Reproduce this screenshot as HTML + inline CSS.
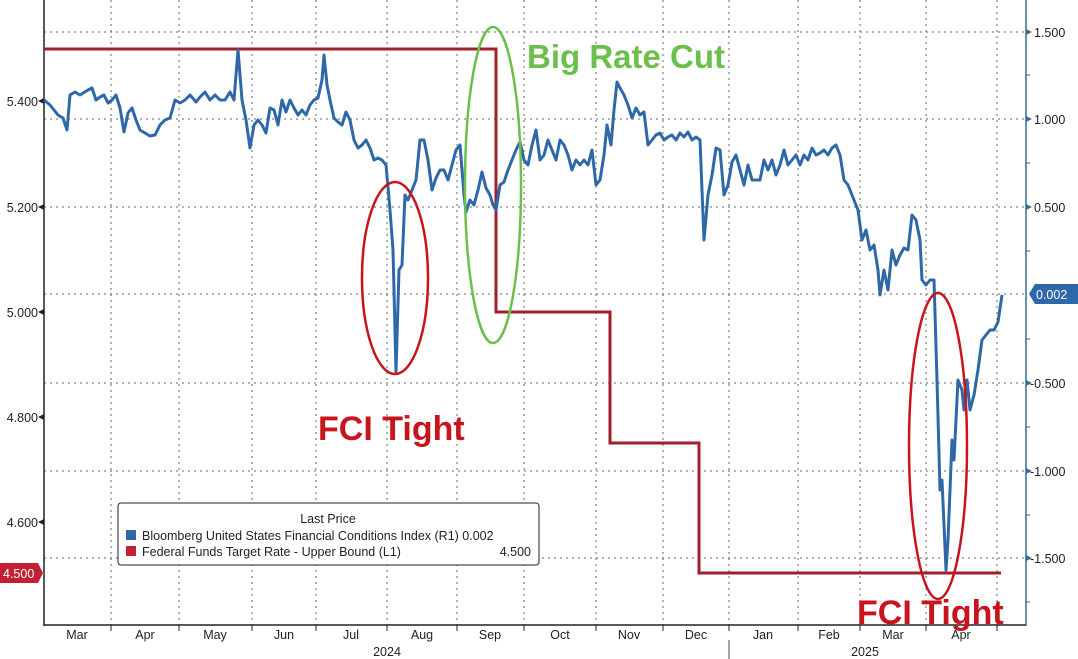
<!DOCTYPE html>
<html><head><meta charset="utf-8"><style>
html,body{margin:0;padding:0;background:#fff;}
svg{display:block;font-family:"Liberation Sans",sans-serif;}
</style></head><body>
<svg width="1078" height="659" viewBox="0 0 1078 659" xmlns="http://www.w3.org/2000/svg">
<rect width="1078" height="659" fill="#fff"/>
<g stroke="#666" stroke-width="1" stroke-dasharray="2,4" fill="none">
<line x1="44" y1="32" x2="1026" y2="32"/>
<line x1="44" y1="119" x2="1026" y2="119"/>
<line x1="44" y1="207" x2="1026" y2="207"/>
<line x1="44" y1="294" x2="1026" y2="294"/>
<line x1="44" y1="383" x2="1026" y2="383"/>
<line x1="44" y1="471" x2="1026" y2="471"/>
<line x1="44" y1="558" x2="1026" y2="558"/>
<line x1="111" y1="0" x2="111" y2="625"/><line x1="179" y1="0" x2="179" y2="625"/>
<line x1="252" y1="0" x2="252" y2="625"/><line x1="316" y1="0" x2="316" y2="625"/>
<line x1="387" y1="0" x2="387" y2="625"/><line x1="457" y1="0" x2="457" y2="625"/>
<line x1="524" y1="0" x2="524" y2="625"/><line x1="596" y1="0" x2="596" y2="625"/>
<line x1="663" y1="0" x2="663" y2="625"/><line x1="729" y1="0" x2="729" y2="625"/>
<line x1="798" y1="0" x2="798" y2="625"/><line x1="860" y1="0" x2="860" y2="625"/>
<line x1="926" y1="0" x2="926" y2="625"/><line x1="997" y1="0" x2="997" y2="625"/>
</g>
<g stroke="#222" stroke-width="1.5">
<line x1="44" y1="0" x2="44" y2="626"/>
<line x1="44" y1="625" x2="1026" y2="625"/>
</g>
<line x1="1026" y1="0" x2="1026" y2="626" stroke="#3a6a90" stroke-width="1.5"/>
<line x1="729" y1="640" x2="729" y2="659" stroke="#444" stroke-width="1"/>
<g stroke="#222" stroke-width="1">
<line x1="111" y1="625" x2="111" y2="631"/><line x1="179" y1="625" x2="179" y2="631"/>
<line x1="252" y1="625" x2="252" y2="631"/><line x1="316" y1="625" x2="316" y2="631"/>
<line x1="387" y1="625" x2="387" y2="631"/><line x1="457" y1="625" x2="457" y2="631"/>
<line x1="524" y1="625" x2="524" y2="631"/><line x1="596" y1="625" x2="596" y2="631"/>
<line x1="663" y1="625" x2="663" y2="631"/><line x1="729" y1="625" x2="729" y2="631"/>
<line x1="798" y1="625" x2="798" y2="631"/><line x1="860" y1="625" x2="860" y2="631"/>
<line x1="926" y1="625" x2="926" y2="631"/><line x1="997" y1="625" x2="997" y2="631"/>
</g>
<g font-size="12.5" fill="#222" text-anchor="middle">
<text x="77" y="639">Mar</text><text x="145" y="639">Apr</text><text x="215" y="639">May</text>
<text x="284" y="639">Jun</text><text x="351" y="639">Jul</text><text x="422" y="639">Aug</text>
<text x="490" y="639">Sep</text><text x="560" y="639">Oct</text><text x="629" y="639">Nov</text>
<text x="696" y="639">Dec</text><text x="763" y="639">Jan</text><text x="829" y="639">Feb</text>
<text x="893" y="639">Mar</text><text x="961" y="639">Apr</text>
<text x="387" y="656">2024</text><text x="865" y="656">2025</text>
</g>
<g font-size="12.5" fill="#222" text-anchor="end">
<text x="38" y="106">5.400</text><text x="38" y="212">5.200</text>
<text x="38" y="317">5.000</text><text x="38" y="422">4.800</text><text x="38" y="527">4.600</text>
</g>
<g fill="#222">
<polygon points="38,101 44,98 44,104"/><polygon points="38,207 44,204 44,210"/>
<polygon points="38,312 44,309 44,315"/><polygon points="38,417 44,414 44,420"/>
<polygon points="38,522 44,519 44,525"/>
</g>
<polygon points="0,563 38,563 43,573 38,583 0,583" fill="#c42033"/>
<text x="3" y="578" font-size="12.5" fill="#fff">4.500</text>
<g fill="#3a6a90">
<polygon points="1026,29 1032,32 1026,35"/><polygon points="1026,116 1032,119 1026,122"/>
<polygon points="1026,204 1032,207 1026,210"/><polygon points="1026,380 1032,383 1026,386"/>
<polygon points="1026,468 1032,471 1026,474"/><polygon points="1026,555 1032,558 1026,561"/>
</g>
<g stroke="#3a6a90"><line x1="1026" y1="75" x2="1030" y2="75"/><line x1="1026" y1="163" x2="1030" y2="163"/><line x1="1026" y1="251" x2="1030" y2="251"/><line x1="1026" y1="339" x2="1030" y2="339"/><line x1="1026" y1="427" x2="1030" y2="427"/><line x1="1026" y1="515" x2="1030" y2="515"/><line x1="1026" y1="602" x2="1030" y2="602"/></g>
<g font-size="12.5" fill="#222">
<text x="1034" y="37">1.500</text><text x="1034" y="124">1.000</text><text x="1034" y="212">0.500</text>
<text x="1030" y="388">-0.500</text><text x="1030" y="476">-1.000</text><text x="1030" y="563">-1.500</text>
</g>
<polygon points="1029,294 1035,284 1078,284 1078,304 1035,304" fill="#2e68a8"/>
<text x="1036" y="299" font-size="12.5" fill="#fff">0.002</text>
<polyline fill="none" stroke="#a21f2c" stroke-width="3" points="44,49 496,49 496,312 610,312 610,443 699,443 699,573 1001,573"/>
<polyline fill="none" stroke="#2e68a8" stroke-width="3" stroke-linejoin="round" points="44,100 50,105 58,115 63,118 67,130 70,95 75,92 80,95 88,90 92,88 96,100 100,97 104,95 108,103 112,100 116,95 120,108 124,132 128,113 132,108 136,120 140,130 145,133 150,136 155,135 160,125 165,120 170,118 175,100 180,103 185,100 190,95 196,102 200,97 205,92 210,100 215,95 220,100 225,100 230,92 234,100 238,50 242,100 246,120 250,148 254,125 258,120 262,125 266,133 270,108 274,110 278,125 282,100 286,112 290,100 294,108 298,115 302,110 306,115 310,105 314,100 318,98 322,80 324,55 327,85 330,100 334,118 338,122 342,125 346,112 350,120 354,140 358,148 362,145 366,140 370,148 374,160 378,158 382,160 386,165 390,210 393,250 396,372 399,270 402,265 405,195 408,200 412,190 416,180 420,140 424,140 428,160 432,190 436,178 440,170 444,170 448,180 452,165 456,150 460,145 464,195 466,212 470,200 474,205 478,190 482,172 486,188 490,195 493,205 496,210 500,185 504,182 508,170 512,160 516,150 520,142 524,160 528,165 532,145 536,130 540,160 544,155 548,140 552,150 556,160 560,140 564,145 568,155 572,170 576,160 580,165 584,160 588,165 592,150 596,185 600,180 604,155 607,125 611,145 614,110 617,82 620,88 624,95 628,105 632,118 636,108 640,115 644,112 648,145 652,140 656,135 660,133 664,140 668,137 672,135 676,140 680,133 684,137 688,132 692,140 696,137 700,140 704,240 708,195 712,175 716,148 720,150 724,195 728,185 732,162 736,155 740,170 744,185 748,165 752,180 756,180 760,180 764,160 768,170 772,160 776,175 780,165 784,150 788,165 792,160 796,155 800,165 804,155 808,160 812,148 816,155 820,153 824,150 828,155 832,148 836,145 840,155 844,180 848,185 852,195 856,205 858,210 862,240 866,230 870,250 874,245 878,270 880,295 884,270 888,290 892,250 896,265 900,255 904,248 908,250 912,215 916,220 920,240 922,280 926,285 930,280 934,280 937,380 940,490 942,480 946,570 948,540 952,440 954,460 958,380 962,390 964,410 967,380 970,410 974,395 978,370 982,340 986,335 990,330 994,330 998,322 1002,295"/>
<ellipse cx="395" cy="278" rx="33" ry="96" fill="none" stroke="#c8141c" stroke-width="2.5"/>
<ellipse cx="493" cy="185" rx="28" ry="158" fill="none" stroke="#6cbf4a" stroke-width="2.5"/>
<ellipse cx="938" cy="446" rx="29" ry="153" fill="none" stroke="#c8141c" stroke-width="2.5"/>
<text x="318" y="440" font-size="34" font-weight="bold" fill="#c8141c">FCI Tight</text>
<text x="527" y="68" font-size="33" font-weight="bold" fill="#6cbf4a">Big Rate Cut</text>
<text x="857" y="624" font-size="34" font-weight="bold" fill="#c8141c">FCI Tight</text>
<rect x="118" y="503" width="421" height="62" rx="3" fill="#fff" stroke="#222" stroke-width="1"/>
<text x="328" y="523" font-size="12.5" fill="#222" text-anchor="middle">Last Price</text>
<rect x="126" y="530" width="10" height="10" fill="#2e68a8"/>
<rect x="126" y="546" width="10" height="10" fill="#c42033"/>
<g font-size="12.5" fill="#222">
<text x="142" y="540">Bloomberg United States Financial Conditions Index  (R1) 0.002</text>
<text x="142" y="556">Federal Funds Target Rate - Upper Bound  (L1)</text>
<text x="531" y="556" text-anchor="end">4.500</text>
</g>
</svg>
</body></html>
